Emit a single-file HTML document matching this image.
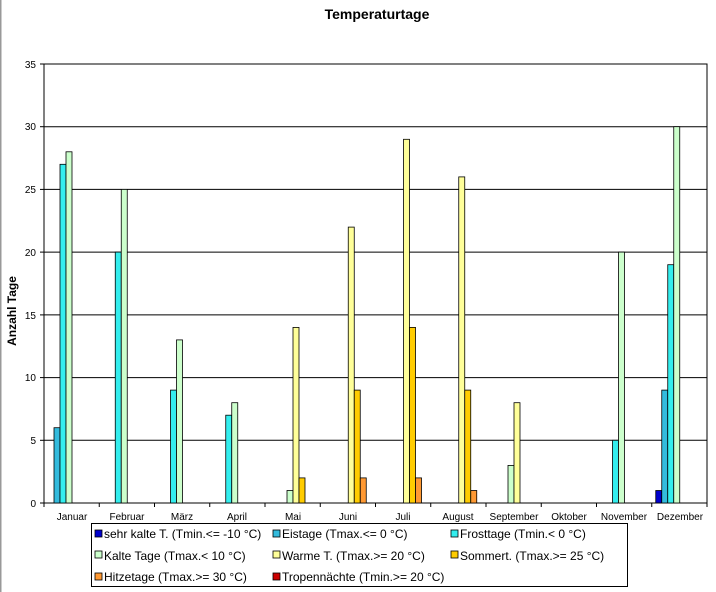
<!DOCTYPE html>
<html><head><meta charset="utf-8"><style>
html,body{margin:0;padding:0;background:#fff;}
svg{display:block;font-family:"Liberation Sans",Arial,sans-serif;}
</style></head><body>
<svg width="716" height="592" viewBox="0 0 716 592" xmlns="http://www.w3.org/2000/svg">
<rect x="0" y="0" width="716" height="592" fill="#fff"/>
<line x1="0.5" y1="0" x2="0.5" y2="592" stroke="#999" stroke-width="2"/>
<text x="377" y="19" font-size="14" font-weight="bold" text-anchor="middle">Temperaturtage</text>
<text transform="translate(16,311) rotate(-90)" font-size="12" font-weight="bold" text-anchor="middle">Anzahl Tage</text>
<g stroke="#000" stroke-width="1">
<line x1="44" y1="440.3" x2="707" y2="440.3"/>
<line x1="44" y1="377.6" x2="707" y2="377.6"/>
<line x1="44" y1="314.9" x2="707" y2="314.9"/>
<line x1="44" y1="252.1" x2="707" y2="252.1"/>
<line x1="44" y1="189.4" x2="707" y2="189.4"/>
<line x1="44" y1="126.7" x2="707" y2="126.7"/>
<rect x="44" y="64" width="663" height="439" fill="none"/>
</g>
<g font-size="10" text-anchor="end">
<text x="36" y="507">0</text><text x="36" y="444">5</text><text x="36" y="381">10</text><text x="36" y="319">15</text><text x="36" y="256">20</text><text x="36" y="193">25</text><text x="36" y="130">30</text><text x="36" y="68">35</text>
</g>
<g stroke="#000" stroke-width="1">
<line x1="40" y1="503" x2="44" y2="503"/><line x1="40" y1="440.3" x2="44" y2="440.3"/><line x1="40" y1="377.6" x2="44" y2="377.6"/><line x1="40" y1="314.9" x2="44" y2="314.9"/><line x1="40" y1="252.1" x2="44" y2="252.1"/><line x1="40" y1="189.4" x2="44" y2="189.4"/><line x1="40" y1="126.7" x2="44" y2="126.7"/><line x1="40" y1="64" x2="44" y2="64"/>
<line x1="44" y1="503" x2="44" y2="507"/><line x1="99.25" y1="503" x2="99.25" y2="507"/><line x1="154.5" y1="503" x2="154.5" y2="507"/><line x1="209.75" y1="503" x2="209.75" y2="507"/><line x1="265" y1="503" x2="265" y2="507"/><line x1="320.25" y1="503" x2="320.25" y2="507"/><line x1="375.5" y1="503" x2="375.5" y2="507"/><line x1="430.75" y1="503" x2="430.75" y2="507"/><line x1="486" y1="503" x2="486" y2="507"/><line x1="541.25" y1="503" x2="541.25" y2="507"/><line x1="596.5" y1="503" x2="596.5" y2="507"/><line x1="651.75" y1="503" x2="651.75" y2="507"/><line x1="707" y1="503" x2="707" y2="507"/>
</g>
<g stroke="#000" stroke-width="0.8">
<rect x="54" y="427.7" width="6" height="75.3" fill="#33BBDD"/>
<rect x="60" y="164.3" width="6" height="338.7" fill="#33EEEE"/>
<rect x="66" y="151.8" width="6" height="351.2" fill="#CCFFCC"/>
<rect x="115.25" y="252.1" width="6" height="250.9" fill="#33EEEE"/>
<rect x="121.25" y="189.4" width="6" height="313.6" fill="#CCFFCC"/>
<rect x="170.5" y="390.1" width="6" height="112.9" fill="#33EEEE"/>
<rect x="176.5" y="339.9" width="6" height="163.1" fill="#CCFFCC"/>
<rect x="225.75" y="415.2" width="6" height="87.8" fill="#33EEEE"/>
<rect x="231.75" y="402.7" width="6" height="100.3" fill="#CCFFCC"/>
<rect x="287" y="490.5" width="6" height="12.5" fill="#CCFFCC"/>
<rect x="293" y="327.4" width="6" height="175.6" fill="#FFFF99"/>
<rect x="299" y="477.9" width="6" height="25.1" fill="#FFCC00"/>
<rect x="348.25" y="227.1" width="6" height="275.9" fill="#FFFF99"/>
<rect x="354.25" y="390.1" width="6" height="112.9" fill="#FFCC00"/>
<rect x="360.25" y="477.9" width="6" height="25.1" fill="#FF9933"/>
<rect x="403.5" y="139.3" width="6" height="363.7" fill="#FFFF99"/>
<rect x="409.5" y="327.4" width="6" height="175.6" fill="#FFCC00"/>
<rect x="415.5" y="477.9" width="6" height="25.1" fill="#FF9933"/>
<rect x="458.75" y="176.9" width="6" height="326.1" fill="#FFFF99"/>
<rect x="464.75" y="390.1" width="6" height="112.9" fill="#FFCC00"/>
<rect x="470.75" y="490.5" width="6" height="12.5" fill="#FF9933"/>
<rect x="508" y="465.4" width="6" height="37.6" fill="#CCFFCC"/>
<rect x="514" y="402.7" width="6" height="100.3" fill="#FFFF99"/>
<rect x="612.5" y="440.3" width="6" height="62.7" fill="#33EEEE"/>
<rect x="618.5" y="252.1" width="6" height="250.9" fill="#CCFFCC"/>
<rect x="655.75" y="490.5" width="6" height="12.5" fill="#0000CC"/>
<rect x="661.75" y="390.1" width="6" height="112.9" fill="#33BBDD"/>
<rect x="667.75" y="264.7" width="6" height="238.3" fill="#33EEEE"/>
<rect x="673.75" y="126.7" width="6" height="376.3" fill="#CCFFCC"/>
</g>
<g font-size="10" text-anchor="middle">
<text x="72" y="520">Januar</text><text x="127" y="520">Februar</text><text x="182" y="520">März</text><text x="237" y="520">April</text><text x="293" y="520">Mai</text><text x="348" y="520">Juni</text><text x="403" y="520">Juli</text><text x="458" y="520">August</text><text x="514" y="520">September</text><text x="569" y="520">Oktober</text><text x="624" y="520">November</text><text x="680" y="520">Dezember</text>
</g>
<rect x="91.5" y="523.5" width="536" height="63" fill="#fff" stroke="#000" stroke-width="1"/>
<g stroke="#000" stroke-width="0.8">
<rect x="95" y="530" width="7" height="7" fill="#0000CC"/>
<rect x="273" y="530" width="7" height="7" fill="#33BBDD"/>
<rect x="451" y="530" width="7" height="7" fill="#33EEEE"/>
<rect x="95" y="551" width="7" height="7" fill="#CCFFCC"/>
<rect x="273" y="551" width="7" height="7" fill="#FFFF99"/>
<rect x="451" y="551" width="7" height="7" fill="#FFCC00"/>
<rect x="95" y="573" width="7" height="7" fill="#FF9933"/>
<rect x="273" y="573" width="7" height="7" fill="#CC0000"/>
</g>
<g font-size="12">
<text x="104" y="538">sehr kalte T. (Tmin.&lt;= -10 °C)</text>
<text x="282" y="538">Eistage (Tmax.&lt;= 0 °C)</text>
<text x="460" y="538">Frosttage (Tmin.&lt; 0 °C)</text>
<text x="104" y="560">Kalte Tage (Tmax.&lt; 10 °C)</text>
<text x="282" y="560">Warme T. (Tmax.&gt;= 20 °C)</text>
<text x="460" y="560">Sommert. (Tmax.&gt;= 25 °C)</text>
<text x="104" y="581">Hitzetage (Tmax.&gt;= 30 °C)</text>
<text x="282" y="581">Tropennächte (Tmin.&gt;= 20 °C)</text>
</g>
</svg>
</body></html>
